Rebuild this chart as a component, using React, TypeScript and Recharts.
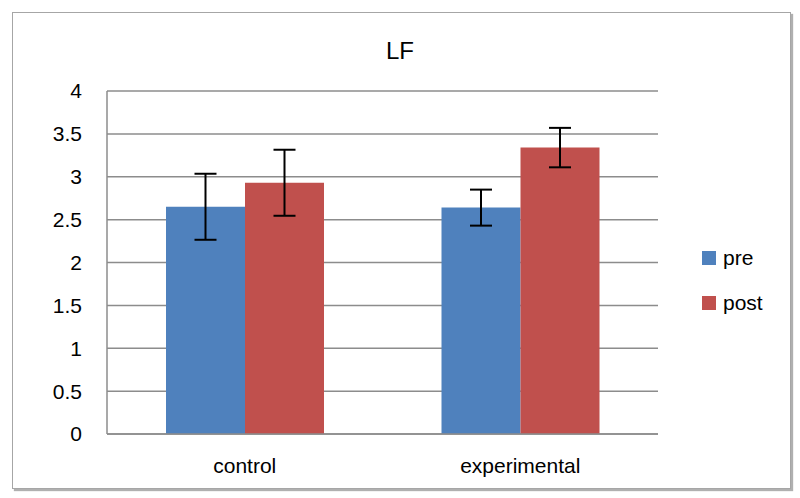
import React from 'react';
import { BarChart, Bar, XAxis, YAxis, CartesianGrid, ErrorBar } from 'recharts';

const groups = ['control', 'experimental'];
const preValues = [2.65, 2.64];
const postValues = [2.93, 3.34];
const preErrors = [0.385, 0.21];
const postErrors = [0.385, 0.23];
const yTicks = [0, 0.5, 1, 1.5, 2, 2.5, 3, 3.5, 4];

const data = groups.map((g, i) => ({
  name: g,
  pre: preValues[i],
  post: postValues[i],
  preErr: preErrors[i],
  postErr: postErrors[i],
}));

const font = '"Liberation Sans", Arial, sans-serif';

const legendItems = [
  { label: 'pre', color: '#4F81BD' },
  { label: 'post', color: '#C0504D' },
];

function LegendBox() {
  return (
    <div style={{ position: 'absolute', left: 702, top: 235, fontFamily: font }}>
      {legendItems.map((it) => (
        <div key={it.label} style={{ display: 'flex', alignItems: 'center', height: 45 }}>
          <span style={{ width: 14, height: 14, background: it.color, display: 'inline-block', marginRight: 7 }} />
          <span style={{ fontSize: 21, color: '#000' }}>{it.label}</span>
        </div>
      ))}
    </div>
  );
}

export default function App() {
  return (
    <div style={{ position: 'absolute', left: 0, top: 0, width: 800, height: 498, background: '#fff', fontFamily: font }}>
      <div
        style={{
          position: 'absolute',
          left: 12,
          top: 12,
          width: 777,
          height: 475,
          border: '1.5px solid #a6a6a6',
          boxShadow: '2px 2px 1px #b0b0b0',
        }}
      />
      <div style={{ position: 'absolute', left: 0, width: 800, top: 37, textAlign: 'center', fontSize: 24, color: '#000', lineHeight: '28px' }}>
        LF
      </div>
      <BarChart
        width={800}
        height={498}
        data={data}
        margin={{ top: 91, right: 142, bottom: 34, left: 47 }}
        barGap={0}
        barCategoryGap={59}
        style={{ position: 'absolute', left: 0, top: 0 }}
      >
        <CartesianGrid vertical={false} stroke="#8c8c8c" strokeWidth={1.5} />
        <XAxis
          dataKey="name"
          height={30}
          axisLine={{ stroke: '#8c8c8c', strokeWidth: 1.5 }}
          tickLine={false}
          tickSize={0}
          tickMargin={24}
          tick={{ fill: '#000', fontSize: 21, fontFamily: font }}
        />
        <YAxis
          width={60}
          domain={[0, 4]}
          ticks={yTicks}
          interval={0}
          axisLine={{ stroke: '#8c8c8c', strokeWidth: 1.5 }}
          tickLine={false}
          tickSize={0}
          tickMargin={25}
          tick={{ fill: '#000', fontSize: 21, fontFamily: font }}
        />
        <Bar dataKey="pre" fill="#4F81BD" isAnimationActive={false}>
          <ErrorBar dataKey="preErr" width={11} stroke="#000" strokeWidth={2} />
        </Bar>
        <Bar dataKey="post" fill="#C0504D" isAnimationActive={false}>
          <ErrorBar dataKey="postErr" width={11} stroke="#000" strokeWidth={2} />
        </Bar>
      </BarChart>
      <LegendBox />
    </div>
  );
}
